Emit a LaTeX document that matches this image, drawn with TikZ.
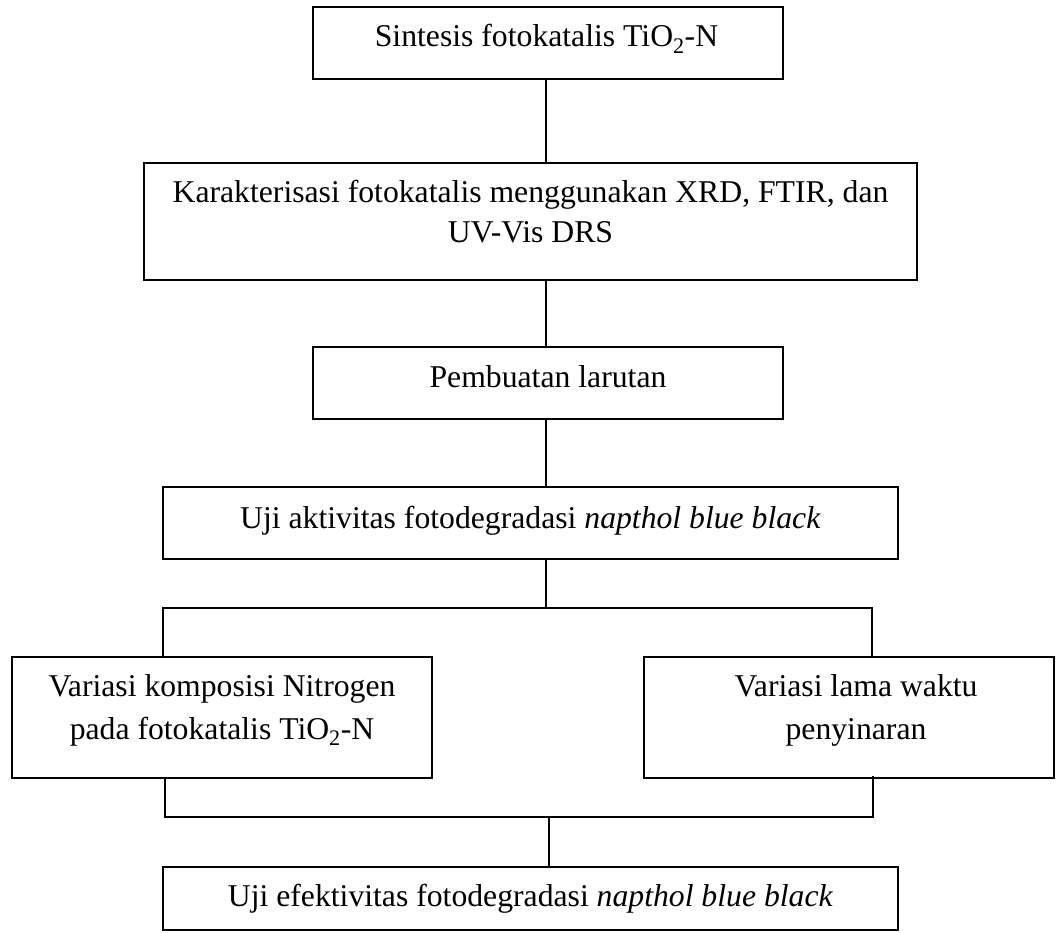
\documentclass[tikz,border=0pt]{standalone}
\usepackage{fontspec}
\setmainfont{Liberation Serif}
\begin{document}
\begin{tikzpicture}[x=1pt,y=-1pt,
  box/.style={draw, line width=1.3pt, inner sep=0pt, outer sep=0pt},
  conn/.style={line width=1.2pt},
  txt/.style={anchor=base, inner sep=0pt, font=\fontsize{31.7}{40}\selectfont}]
\useasboundingbox (0,0) rectangle (1057,933);
% boxes
\node[box, minimum width=470pt, minimum height=72pt]  (b1) at (548,43) {};
\node[box, minimum width=773pt, minimum height=117pt] (b2) at (530.5,221.5) {};
\node[box, minimum width=470pt, minimum height=72pt]  (b3) at (548,383) {};
\node[box, minimum width=735pt, minimum height=72pt]  (b4) at (530.5,523) {};
\node[box, minimum width=420pt, minimum height=121pt] (b5) at (222,717.5) {};
\node[box, minimum width=410pt, minimum height=121pt] (b6) at (849,717.5) {};
\node[box, minimum width=735pt, minimum height=63pt]  (b7) at (530.5,898.5) {};
% texts
\node[txt] (t1) at (546.5,47) {Sintesis fotokatalis TiO\textsubscript{2}-N};
\node[txt] (t2a) at (530.5,203) {Karakterisasi fotokatalis menggunakan XRD, FTIR, dan};
\node[txt] (t2b) at (530.5,243) {UV-Vis DRS};
\node[txt] (t3) at (548,387) {Pembuatan larutan};
\node[txt] (t4) at (530.5,528) {Uji aktivitas fotodegradasi \textit{napthol blue black}};
\node[txt] (t5a) at (222,696) {Variasi komposisi Nitrogen};
\node[txt] (t5b) at (222,739) {pada fotokatalis TiO\textsubscript{2}-N};
\node[txt] (t6a) at (856,696) {Variasi lama waktu};
\node[txt] (t6b) at (856,739) {penyinaran};
\node[txt] (t7) at (530.5,906) {Uji efektivitas fotodegradasi \textit{napthol blue black}};
% junction coordinates
\coordinate (s) at (546,608);
\coordinate (sL) at (163,608);
\coordinate (sR) at (872,608);
\coordinate (j) at (549,817);
\coordinate (jL) at (165,817);
\coordinate (jR) at (873,817);
\coordinate (jRtop) at (873,776);
% connectors
\draw[conn] (b1.south -| s) -- (b2.north -| s);
\draw[conn] (b2.south -| s) -- (b3.north -| s);
\draw[conn] (b3.south -| s) -- (b4.north -| s);
\draw[conn] (b4.south -| s) -- (s);
\draw[conn] (b5.north -| sL) -- (sL) -- (sR) -- (b6.north -| sR);
\draw[conn] (b5.south -| jL) -- (jL) -- (jR) -- (jRtop);
\draw[conn] (j) -- (b7.north -| j);
\end{tikzpicture}
\end{document}
